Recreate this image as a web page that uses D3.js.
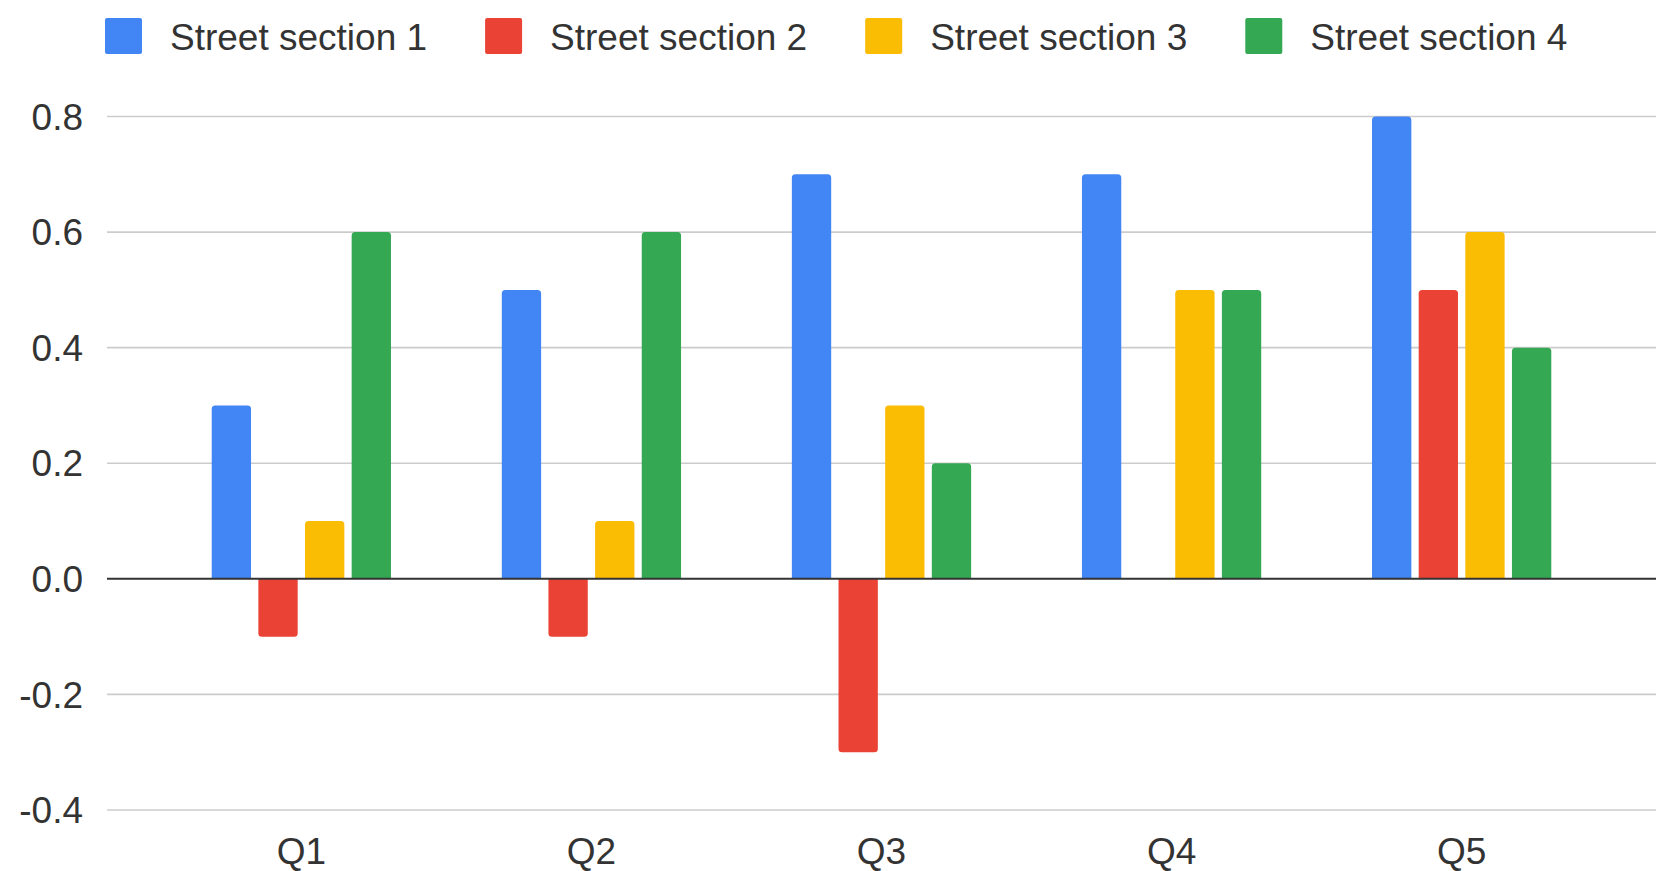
<!DOCTYPE html>
<html>
<head>
<meta charset="utf-8">
<script src="https://cdn.jsdelivr.net/npm/d3@7"></script>
<style>
  html, body { margin: 0; padding: 0; background: #fff; }
  svg { display: block; font-family: "Liberation Sans", Arial, sans-serif; }
</style>
</head>
<body>
<svg id="chart" width="1656" height="871"></svg>
<script>
// Quarterly values per street section
const categories = ["Q1", "Q2", "Q3", "Q4", "Q5"];
const seriesNames = ["Street section 1", "Street section 2", "Street section 3", "Street section 4"];
const section1 = [0.3, 0.5, 0.7, 0.7, 0.8];
const section2 = [-0.1, -0.1, -0.3, 0, 0.5];
const section3 = [0.1, 0.1, 0.3, 0.5, 0.6];
const section4 = [0.6, 0.6, 0.2, 0.5, 0.4];
const yTicks = [-0.4, -0.2, 0.0, 0.2, 0.4, 0.6, 0.8];
const colors = ["#4285F4", "#EA4335", "#FBBC04", "#34A853"];

const seriesValues = [section1, section2, section3, section4];
const rows = categories.map((c, i) => ({
  category: c,
  values: seriesNames.map((s, j) => ({ series: s, value: seriesValues[j][i] }))
}));

const svg = d3.select("#chart");
const W = 1656;
const plotLeft = 107, plotRight = W, plotTop = 116.5, plotBottom = 810;
const textColor = "#333";
const fontSize = 37;

const x0 = d3.scaleBand()
  .domain(categories)
  .range([plotLeft, plotRight])
  .paddingInner(0)
  .paddingOuter(0.17);

const groupFrac = 0.618;
const x1 = d3.scaleBand()
  .domain(seriesNames)
  .range([0, x0.bandwidth() * groupFrac])
  .paddingInner(0.157)
  .paddingOuter(0);
const groupOffset = x0.bandwidth() * (1 - groupFrac) / 2;

const y = d3.scaleLinear().domain([-0.4, 0.8]).range([plotBottom, plotTop]);
const color = d3.scaleOrdinal().domain(seriesNames).range(colors);

// Gridlines
svg.append("g")
  .selectAll("line")
  .data(yTicks.filter(t => t !== 0))
  .join("line")
  .attr("x1", plotLeft).attr("x2", plotRight)
  .attr("y1", d => y(d)).attr("y2", d => y(d))
  .attr("stroke", "#cccccc")
  .attr("stroke-width", 1.6);

// Y axis labels
const yAxis = d3.axisLeft(y).tickValues(yTicks).tickFormat(d3.format(".1f")).tickSize(0).tickPadding(0);
const yg = svg.append("g").attr("transform", `translate(83,0)`).call(yAxis);
yg.select(".domain").remove();
yg.selectAll("text")
  .attr("font-size", fontSize)
  .attr("font-family", '"Liberation Sans", Arial, sans-serif')
  .attr("fill", textColor)
  .attr("dy", "0.34em")
  .attr("x", 0)
  .text(d => d3.format(".1f")(d).replace("−", "-"));

// Bars with slightly rounded outer ends
function barPath(x, w, v) {
  const y0 = y(0), yv = y(v);
  const r = Math.min(3.5, Math.abs(yv - y0) / 2);
  if (v >= 0) {
    return `M${x},${y0}V${yv + r}Q${x},${yv} ${x + r},${yv}H${x + w - r}Q${x + w},${yv} ${x + w},${yv + r}V${y0}Z`;
  }
  return `M${x},${y0}V${yv - r}Q${x},${yv} ${x + r},${yv}H${x + w - r}Q${x + w},${yv} ${x + w},${yv - r}V${y0}Z`;
}

svg.append("g")
  .selectAll("g")
  .data(rows)
  .join("g")
  .attr("transform", d => `translate(${x0(d.category) + groupOffset},0)`)
  .selectAll("path")
  .data(d => d.values.filter(v => v.value !== 0))
  .join("path")
  .attr("d", d => barPath(x1(d.series), x1.bandwidth(), d.value))
  .attr("fill", d => color(d.series));

// Zero baseline
svg.append("line")
  .attr("x1", plotLeft).attr("x2", plotRight)
  .attr("y1", y(0)).attr("y2", y(0))
  .attr("stroke", "#333")
  .attr("stroke-width", 2);

// X axis labels
const xAxis = d3.axisBottom(x0).tickSize(0).tickPadding(0);
const xg = svg.append("g").attr("transform", `translate(0,864)`).call(xAxis);
xg.select(".domain").remove();
xg.selectAll("text")
  .attr("font-size", fontSize)
  .attr("font-family", '"Liberation Sans", Arial, sans-serif')
  .attr("fill", textColor)
  .attr("dy", 0)
  .attr("y", 0);

// Legend
const legend = svg.append("g");
let lx = 105;
seriesNames.forEach((name, i) => {
  const item = legend.append("g").attr("transform", `translate(${lx},0)`);
  item.append("rect")
    .attr("x", 0).attr("y", 18)
    .attr("width", 37).attr("height", 36)
    .attr("rx", 2)
    .attr("fill", color(name));
  const t = item.append("text")
    .attr("x", 65).attr("y", 50)
    .attr("font-size", fontSize)
    .attr("fill", textColor)
    .text(name);
  const tw = t.node().getComputedTextLength();
  lx += 65 + tw + 58;
});
</script>
</body>
</html>
